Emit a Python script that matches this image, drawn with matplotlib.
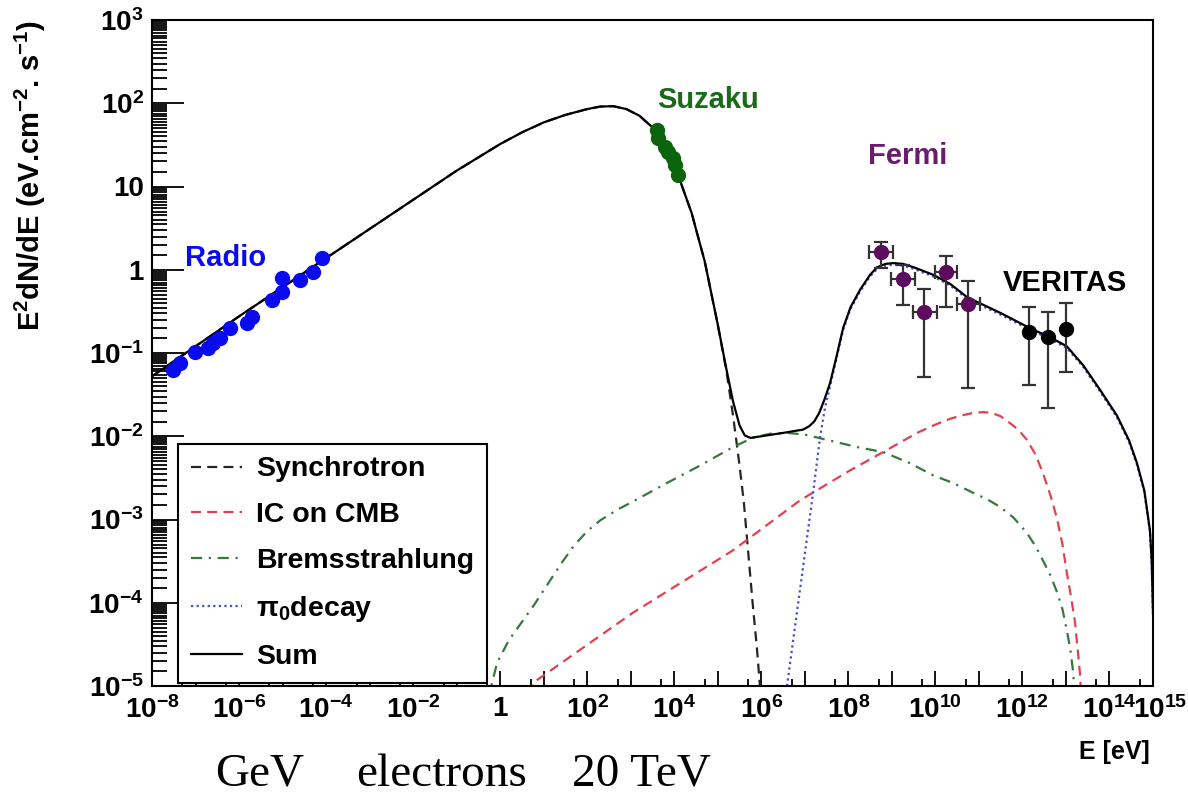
import numpy as np
import matplotlib
matplotlib.use("Agg")
import matplotlib.pyplot as plt
from matplotlib.lines import Line2D
from matplotlib.ticker import FixedLocator, FixedFormatter, NullFormatter
from matplotlib.transforms import offset_copy

plt.rcParams['font.family'] = ['Liberation Sans', 'DejaVu Sans']
plt.rcParams['font.weight'] = 'bold'
plt.rcParams['mathtext.fontset'] = 'custom'
plt.rcParams['mathtext.rm'] = 'Liberation Sans:bold'
plt.rcParams['mathtext.it'] = 'Liberation Sans:bold'
plt.rcParams['mathtext.bf'] = 'Liberation Sans:bold'
plt.rcParams['mathtext.default'] = 'rm'

# model curves as log10(E/eV), log10(E^2 dN/dE)
sum_logE = [-8.0, -6.0, -4.0, -2.0, -1.0, 0.0, 0.5, 1.0, 1.5, 2.0, 2.3, 2.6, 2.9, 3.2, 3.5,
            3.8, 4.1, 4.4, 4.7, 5.0, 5.2, 5.35, 5.5, 5.62, 5.75, 6.0, 6.5, 6.96, 7.1, 7.22,
            7.33, 7.45, 7.58, 7.72, 7.88, 8.05, 8.27, 8.5, 8.66, 8.85, 9.03, 9.26, 9.5, 9.95,
            10.34, 10.73, 11.5, 12.24, 12.6, 13.02, 13.4, 13.78, 14.17, 14.45, 14.63, 14.8,
            14.93, 14.97, 15.0]
sum_logF = [-1.28, -0.56, 0.14, 0.84, 1.19, 1.51, 1.65, 1.77, 1.86, 1.93, 1.96, 1.965, 1.93, 1.85, 1.71,
            1.48, 1.12, 0.68, 0.10, -0.66, -1.20, -1.58, -1.87, -1.99, -2.02, -2.00, -1.96, -1.92, -1.88, -1.82,
            -1.72, -1.56, -1.36, -1.06, -0.70, -0.45, -0.24, -0.06, 0.03, 0.07, 0.08, 0.07, 0.03, -0.06,
            -0.17, -0.33, -0.52, -0.72, -0.80, -0.92, -1.15, -1.44, -1.75, -2.05, -2.32, -2.65,
            -3.13, -3.50, -4.12]

sync_logE = [-8.0, -6.0, -4.0, -2.0, -1.0, 0.0, 0.5, 1.0, 1.5, 2.0, 2.3, 2.6, 2.9, 3.2, 3.5,
             3.8, 4.1, 4.4, 4.7, 5.0, 5.2, 5.35, 5.5, 5.6, 5.7, 5.8, 5.9, 6.0]
sync_logF = [-1.28, -0.56, 0.14, 0.84, 1.19, 1.51, 1.65, 1.77, 1.86, 1.93, 1.96, 1.965, 1.93, 1.85, 1.71,
             1.48, 1.12, 0.68, 0.10, -0.66, -1.22, -1.75, -2.35, -2.80, -3.40, -4.00, -4.55, -5.20]

ic_logE = [0.7, 0.76, 3.05, 5.35, 6.89, 8.04, 8.8, 9.58, 10.0, 10.34, 10.6, 10.87, 11.1, 11.3,
           11.5, 11.71, 11.9, 12.1, 12.3, 12.47, 12.65, 12.8, 12.92, 13.02, 13.12, 13.21, 13.32, 13.36]
ic_logF = [-5.1, -4.96, -4.12, -3.37, -2.77, -2.41, -2.19, -1.96, -1.86, -1.79, -1.75, -1.72, -1.71, -1.72,
           -1.76, -1.84, -1.92, -2.04, -2.22, -2.44, -2.72, -3.00, -3.30, -3.64, -3.94, -4.24, -4.84, -5.2]

brems_logE = [-0.3, -0.07, 0.2, 0.5, 0.8, 1.1, 1.4, 1.7, 2.0, 2.3, 2.7, 3.1, 3.8, 4.6, 5.35,
              5.8, 6.2, 6.6, 7.0, 7.4, 8.2, 8.8, 9.4, 9.95, 10.4, 10.87, 11.2, 11.49, 11.8, 12.1,
              12.3, 12.47, 12.65, 12.8, 12.92, 13.02, 13.1, 13.16, 13.22]
brems_logF = [-5.2, -4.72, -4.45, -4.23, -4.01, -3.77, -3.53, -3.31, -3.14, -3.01, -2.88, -2.77, -2.57, -2.35, -2.13,
              -2.02, -1.97, -1.96, -1.98, -2.03, -2.13, -2.19, -2.32, -2.47, -2.56, -2.68, -2.76, -2.85, -2.98, -3.16,
              -3.32, -3.49, -3.68, -3.88, -4.08, -4.33, -4.56, -4.81, -5.2]

pi0_logE = [6.55, 6.59, 7.19, 7.35, 7.47, 7.58, 7.72, 7.88, 8.05, 8.27, 8.5, 8.66, 8.85, 9.03,
            9.26, 9.5, 9.95, 10.34, 10.73, 11.5, 12.24, 12.6, 13.02, 13.4, 13.78, 14.17, 14.45,
            14.63, 14.8, 14.93, 14.97, 15.0]
pi0_logF = [-5.2, -5.0, -2.68, -2.01, -1.64, -1.40, -1.08, -0.72, -0.47, -0.26, -0.08, 0.01, 0.05, 0.06,
            0.05, 0.01, -0.08, -0.19, -0.35, -0.54, -0.74, -0.82, -0.94, -1.17, -1.46, -1.77, -2.07,
            -2.34, -2.67, -3.15, -3.52, -4.14]

# measurements
radio_logE = [-7.52, -7.36, -7.01, -6.71, -6.60, -6.44, -6.21, -5.82, -5.70, -5.24, -5.01, -5.01, -4.60, -4.30, -4.09]
radio_logF = [-1.20, -1.12, -0.99, -0.94, -0.88, -0.82, -0.70, -0.64, -0.57, -0.36, -0.27, -0.10, -0.12, -0.03, 0.14]

suzaku_logE = [3.60, 3.63, 3.79, 3.86, 3.97, 4.02, 4.09]
suzaku_logF = [1.68, 1.58, 1.47, 1.41, 1.34, 1.26, 1.14]

fermi_logE = [8.75, 9.26, 9.74, 10.24, 10.75]
fermi_logF = [0.21, -0.11, -0.51, -0.03, -0.41]
fermi_logF_hi = [0.33, 0.06, -0.23, 0.17, -0.14]
fermi_logF_lo = [0.02, -0.42, -1.29, -0.45, -1.42]
fermi_logE_lo = [8.48, 8.98, 9.49, 9.99, 10.50]
fermi_logE_hi = [9.03, 9.53, 10.04, 10.50, 11.03]

veritas_logE = [12.15, 12.59, 13.00]
veritas_logF = [-0.75, -0.81, -0.71]
veritas_logF_hi = [-0.45, -0.51, -0.40]
veritas_logF_lo = [-1.38, -1.66, -1.23]

legend_labels = ['Synchrotron', 'IC on CMB', 'Bremsstrahlung', r'$\pi_{0}$decay', 'Sum']
caption_words = ['GeV', 'electrons', '20 TeV']

x_exps = list(range(-8, 16))
y_exps = list(range(-5, 4))


def p(a):
    return 10.0 ** np.asarray(a, dtype=float)


def xlab(k):
    if k == 0:
        return '1'
    if k % 2 == 0:
        return r'$10^{%d}$' % k
    return ''


def ylab(k):
    if k == 0:
        return '1'
    if k == 1:
        return '10'
    return r'$10^{%d}$' % k


c_sync = '#262626'
c_ic = '#e0434d'
c_brems = '#357a3c'
c_pi0 = '#4b4bcc'
ls_dash = (0, (4.5, 2.8))
ls_dashdot = (0, (5, 3, 1, 3))
ls_dot = (0, (1, 1.5))

fig = plt.figure(figsize=(11.88, 7.95), dpi=100)
ax = fig.add_axes([152 / 1188, 1 - 686 / 795, 1001 / 1188, 666 / 795])
ax.set_xscale('log')
ax.set_yscale('log')

ax.plot(p(sync_logE), p(sync_logF), color=c_sync, lw=1.6, ls=ls_dash)
ax.plot(p(ic_logE), p(ic_logF), color=c_ic, lw=1.6, ls=ls_dash)
ax.plot(p(brems_logE), p(brems_logF), color=c_brems, lw=1.6, ls=ls_dashdot)
ax.plot(p(pi0_logE), p(pi0_logF), color=c_pi0, lw=1.6, ls=ls_dot)
ax.plot(p(sum_logE), p(sum_logF), color='black', lw=1.6)

ax.plot(p(radio_logE), p(radio_logF), 'o', color='#0a0aee', ms=10, zorder=5)
ax.plot(p(suzaku_logE), p(suzaku_logF), 'o', color='#0b640b', ms=10, zorder=5)

fe = p(fermi_logE)
ff = p(fermi_logF)
ax.errorbar(fe, ff,
            yerr=[ff - p(fermi_logF_lo), p(fermi_logF_hi) - ff],
            xerr=[fe - p(fermi_logE_lo), p(fermi_logE_hi) - fe],
            fmt='o', color='#5e0a5e', ms=10, ecolor='#333333', elinewidth=1.6,
            capsize=5, capthick=1.6, zorder=6)

ve = p(veritas_logE)
vf = p(veritas_logF)
ax.errorbar(ve, vf, yerr=[vf - p(veritas_logF_lo), p(veritas_logF_hi) - vf],
            fmt='o', color='black', ms=10, ecolor='#333333', elinewidth=1.6,
            capsize=5, capthick=1.6, zorder=6)

ax.set_xlim(1e-8, 1e15)
ax.set_ylim(1e-5, 1e3)

ax.xaxis.set_major_locator(FixedLocator(p(x_exps)))
ax.xaxis.set_major_formatter(FixedFormatter([xlab(k) for k in x_exps]))
ax.xaxis.set_minor_locator(FixedLocator([5 * 10.0 ** k for k in range(-8, 15)]))
ax.xaxis.set_minor_formatter(NullFormatter())

ax.yaxis.set_major_locator(FixedLocator(p(y_exps)))
ax.yaxis.set_major_formatter(FixedFormatter([ylab(k) for k in y_exps]))
ax.yaxis.set_minor_locator(FixedLocator([m * 10.0 ** k for k in range(-5, 3)
                                         for m in np.arange(1.5, 10.0, 0.5)]))
ax.yaxis.set_minor_formatter(NullFormatter())

ax.tick_params(axis='x', which='major', direction='in', length=11, width=1.3,
               labelsize=20, pad=7)
ax.tick_params(axis='x', which='minor', direction='in', length=5, width=1.3)
ax.tick_params(axis='y', which='major', direction='in', length=23, width=1.3,
               labelsize=20, pad=6)
ax.tick_params(axis='y', which='minor', direction='in', length=11, width=1.3)
for s in ax.spines.values():
    s.set_linewidth(1.5)

# last x label sits a little to the right so it does not run into 10^14
ax.text(1e15, 0, r'$10^{15}$', fontsize=20, ha='center', va='top', clip_on=False,
        transform=offset_copy(ax.get_xaxis_transform(), fig=fig, x=5, y=-7, units='points'))

ax.text(p(-7.24), p(0.14), 'Radio', color='#0a0aee', fontsize=21, va='center', ha='left')
ax.text(p(3.60), p(2.04), 'Suzaku', color='#1a6a1a', fontsize=21, va='center', ha='left')
ax.text(p(8.45), p(1.37), 'Fermi', color='#6a1b6a', fontsize=21, va='center', ha='left')
ax.text(p(11.55), p(-0.16), 'VERITAS', color='black', fontsize=21, va='center', ha='left')

handles = [
    Line2D([], [], color=c_sync, lw=1.6, ls=ls_dash),
    Line2D([], [], color=c_ic, lw=1.6, ls=ls_dash),
    Line2D([], [], color=c_brems, lw=1.6, ls=ls_dashdot),
    Line2D([], [], color=c_pi0, lw=1.6, ls=ls_dot),
    Line2D([], [], color='black', lw=1.6),
]
leg = ax.legend(handles, legend_labels, loc='lower left', bbox_to_anchor=(0.026, 0.0045),
                borderaxespad=0, fancybox=False, framealpha=1, edgecolor='black',
                fontsize=20.5, handlelength=1.8, handletextpad=0.5, labelspacing=0.7,
                borderpad=0.45)
leg.get_frame().set_linewidth(1.5)

fig.text(30 / 1188, 1 - 20 / 795, r'E$^{2}$dN/dE (eV.cm$^{-2}$. s$^{-1}$)', rotation=90,
         ha='center', va='top', fontsize=21)
fig.text(1150 / 1188, 1 - 752 / 795, 'E [eV]', ha='right', va='center', fontsize=18)

# caption under the plot, in a serif face
for word, x0 in zip(caption_words, [215, 356, 572]):
    fig.text(x0 / 1188, 1 - 786 / 795, word, ha='left', va='baseline', fontsize=34,
             fontweight='normal', family=['Liberation Serif', 'DejaVu Serif'])

fig.savefig('out.png', dpi=100)
